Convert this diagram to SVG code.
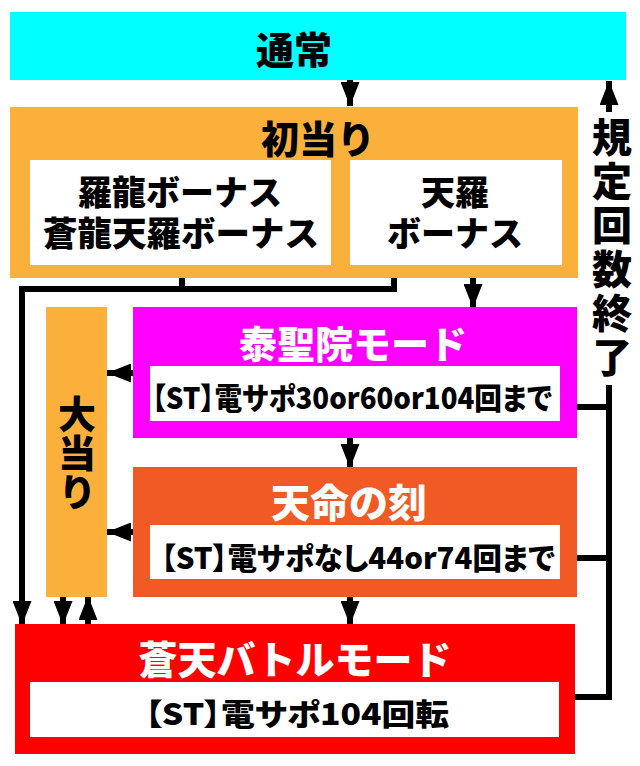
<svg xmlns="http://www.w3.org/2000/svg" width="640" height="766" viewBox="0 0 640 766">
<defs>
<style>
.t{font-family:"Noto Sans CJK JP","Noto Sans",sans-serif;font-weight:900;dominant-baseline:central;text-anchor:middle}
.k{fill:#000}
.w{fill:#fff}
.p{font-feature-settings:"palt"}
.v{writing-mode:vertical-rl;text-orientation:upright}
.ln{stroke:#000;stroke-width:6;fill:none}
</style>
<marker id="ah" viewBox="0 0 24 19" refX="24" refY="9.5" markerWidth="24" markerHeight="19" markerUnits="userSpaceOnUse" orient="auto">
<path d="M0,0 L24,9.5 L0,19 Z" fill="#000"/>
</marker>
</defs>
<rect width="640" height="766" fill="#fff"/>

<g id="connectors">
<line class="ln" x1="350" y1="80" x2="350" y2="106" marker-end="url(#ah)"/>
<polyline class="ln" points="182,265 182,289 22,289 22,625" marker-end="url(#ah)"/>
<polyline class="ln" points="394,265 394,289 182,289"/>
<line class="ln" x1="473" y1="265" x2="473" y2="308" marker-end="url(#ah)"/>
<line class="ln" x1="134" y1="373" x2="107" y2="373" marker-end="url(#ah)"/>
<line class="ln" x1="134" y1="532" x2="107" y2="532" marker-end="url(#ah)"/>
<line class="ln" x1="350" y1="438" x2="350" y2="468" marker-end="url(#ah)"/>
<line class="ln" x1="350" y1="597" x2="350" y2="625" marker-end="url(#ah)"/>
<line class="ln" x1="63" y1="597" x2="63" y2="625" marker-end="url(#ah)"/>
<line class="ln" x1="88" y1="625" x2="88" y2="596" marker-end="url(#ah)"/>
<polyline class="ln" points="575,697 609,697 609,385"/>
<line class="ln" x1="576" y1="407" x2="609" y2="407"/>
<line class="ln" x1="576" y1="558" x2="609" y2="558"/>
<line class="ln" x1="609" y1="112" x2="609" y2="81" marker-end="url(#ah)"/>
<text class="t k v" font-size="40" letter-spacing="4" x="612" y="249">規定回数終了</text>
</g>

<g id="tsujo">
<rect x="10" y="12" width="616" height="68" fill="#00FFFF"/>
<text class="t k" font-size="38" x="294" y="47">通常</text>
</g>

<g id="hatsuatari">
<rect x="10" y="107" width="568" height="171" fill="#FBB03B"/>
<text class="t k" font-size="38" x="318" y="136">初当り</text>
</g>

<g id="raryu-bonus">
<rect x="30" y="160" width="301" height="105" fill="#fff"/>
<text class="t k" font-size="34"><tspan x="180" y="190">羅龍ボーナス</tspan><tspan x="181" y="231" font-size="34.5">蒼龍天羅ボーナス</tspan></text>
</g>

<g id="tenra-bonus">
<rect x="350" y="160" width="212" height="105" fill="#fff"/>
<text class="t k" font-size="34"><tspan x="455" y="190">天羅</tspan><tspan x="455" y="231">ボーナス</tspan></text>
</g>

<g id="ooatari">
<rect x="46" y="307" width="61" height="290" fill="#FBB03B"/>
<text class="t k v" font-size="38" letter-spacing="1" x="77" y="453">大当り</text>
</g>

<g id="taiseiin-mode">
<rect x="133" y="307" width="444" height="131" fill="#FF00FF"/>
<text class="t w" font-size="38" x="353" y="341">泰聖院モード</text>
<rect x="150" y="366" width="410" height="55" fill="#fff"/>
<text class="t k p" font-size="30" x="352" y="396" textLength="400" lengthAdjust="spacingAndGlyphs">【ST】電サポ30or60or104回まで</text>
</g>

<g id="tenmei-no-toki">
<rect x="133" y="467" width="444" height="130" fill="#F15A24"/>
<text class="t w" font-size="39" x="349" y="500">天命の刻</text>
<rect x="150" y="525" width="410" height="54" fill="#fff"/>
<text class="t k p" font-size="30" x="358" y="556" textLength="394" lengthAdjust="spacingAndGlyphs">【ST】電サポなし44or74回まで</text>
</g>

<g id="soten-battle-mode">
<rect x="15" y="624" width="560" height="130" fill="#FF0000"/>
<text class="t w" font-size="39" x="295" y="657">蒼天バトルモード</text>
<rect x="30" y="682" width="529" height="55" fill="#fff"/>
<text class="t k p" font-size="30" x="297" y="712" textLength="304" lengthAdjust="spacingAndGlyphs">【ST】電サポ104回転</text>
</g>
</svg>
